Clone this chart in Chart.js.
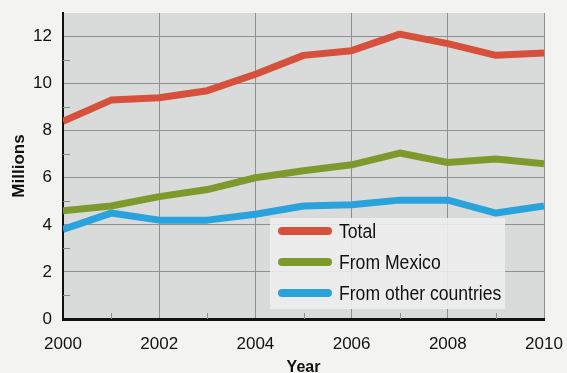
<!DOCTYPE html>
<html>
<head>
<meta charset="utf-8">
<script src="https://cdn.jsdelivr.net/npm/chart.js@4/dist/chart.umd.min.js"></script>
<style>
  body { margin: 0; background: #f3f3f1; }
  #wrap { position: relative; width: 567px; height: 373px; }
  #legend {
    position: absolute; left: 270px; top: 218px; width: 235px; height: 91px;
    background: rgba(236, 237, 236, 0.9);
    font-family: "Liberation Sans", sans-serif; font-size: 20px; color: #111;
  }
  .item { position: absolute; left: 8px; height: 24px; display: flex; align-items: center; white-space: nowrap; }
  .swatch { width: 54px; height: 8px; border-radius: 4px; margin-right: 7px; flex: none; }
  .txt { display: inline-block; transform: scaleX(0.88); transform-origin: left center; }
</style>
</head>
<body>
<div id="wrap">
  <canvas id="chart" width="567" height="373"></canvas>
  <div id="legend"></div>
</div>
<script>
// values (millions)
const years = [2000, 2001, 2002, 2003, 2004, 2005, 2006, 2007, 2008, 2009, 2010];
const total = [8.4, 9.3, 9.4, 9.7, 10.4, 11.2, 11.4, 12.1, 11.7, 11.2, 11.3];
const fromMexico = [4.6, 4.8, 5.2, 5.5, 6.0, 6.3, 6.55, 7.05, 6.65, 6.8, 6.6];
const fromOther = [3.8, 4.5, 4.2, 4.2, 4.45, 4.8, 4.85, 5.05, 5.05, 4.5, 4.8];
const seriesNames = ["Total", "From Mexico", "From other countries"];
const colors = ["#d6503b", "#7f9a2c", "#2aa3dd"];

const pts = arr => arr.map((v, i) => ({x: years[i], y: v}));
const seriesData = [total, fromMexico, fromOther];

// plot background + little minor ticks at odd values
const plotBg = {
  id: 'plotBg',
  beforeDraw(chart) {
    const a = chart.chartArea, ctx = chart.ctx;
    ctx.save();
    ctx.fillStyle = '#d9dbdb';
    ctx.fillRect(a.left, a.top, a.right - a.left, a.bottom - a.top);
    ctx.restore();
  },
  beforeDatasetsDraw(chart) {
    const a = chart.chartArea, ctx = chart.ctx;
    const xs = chart.scales.x, ys = chart.scales.y;
    ctx.save();
    ctx.strokeStyle = '#8a8c8c';
    ctx.lineWidth = 1;
    ctx.beginPath();
    for (let y = 1; y <= 11; y += 2) {
      const py = Math.round(ys.getPixelForValue(y)) + 0.5;
      ctx.moveTo(a.left, py); ctx.lineTo(a.left + 7, py);
    }
    for (let x = 2001; x <= 2009; x += 2) {
      const px = Math.round(xs.getPixelForValue(x)) + 0.5;
      ctx.moveTo(px, a.bottom); ctx.lineTo(px, a.bottom - 6);
    }
    ctx.stroke();
    ctx.restore();
  }
};

new Chart(document.getElementById('chart'), {
  type: 'line',
  data: {
    datasets: seriesData.map((d, i) => ({
      label: seriesNames[i],
      data: pts(d),
      borderColor: colors[i],
      borderWidth: 7,
      pointRadius: 0,
      tension: 0,
      borderJoinStyle: 'round'
    }))
  },
  options: {
    responsive: false,
    animation: false,
    layout: { padding: { top: 13, right: 23, left: 0, bottom: 0 } },
    plugins: { legend: { display: false }, tooltip: { enabled: false } },
    scales: {
      x: {
        type: 'linear', min: 2000, max: 2010,
        afterFit: s => { s.height = 54; s.paddingLeft = 0; s.paddingRight = 0; },
        ticks: { stepSize: 2, padding: 15, color: '#111', maxRotation: 0,
                 font: { family: 'Liberation Sans', size: 17 }, callback: v => String(v) },
        grid: { color: '#8f9191', drawTicks: false },
        border: { color: '#111', width: 3 },
        title: { display: true, text: 'Year', color: '#111',
                 font: { family: 'Liberation Sans', size: 16, weight: 'bold' }, padding: { top: 0, bottom: -4 } }
      },
      y: {
        min: 0, max: 13,
        afterFit: s => { s.width = 63; s.paddingTop = 0; s.paddingBottom = 0; },
        afterBuildTicks: s => { s.ticks = s.ticks.filter(t => t.value <= 12); },
        ticks: { stepSize: 2, padding: 11, color: '#111',
                 font: { family: 'Liberation Sans', size: 17 } },
        grid: { color: '#8f9191', drawTicks: false },
        border: { color: '#111', width: 2 },
        title: { display: true, text: 'Millions', color: '#111',
                 font: { family: 'Liberation Sans', size: 17, weight: 'bold' }, padding: { top: 9, bottom: 0 } }
      }
    }
  },
  plugins: [plotBg]
});

// legend inside the plot
const lg = document.getElementById('legend');
seriesNames.forEach((name, i) => {
  const it = document.createElement('div');
  it.className = 'item';
  it.style.top = (1 + i * 31) + 'px';
  it.innerHTML = '<span class="swatch" style="background:' + colors[i] + '"></span><span class="txt">' + name + '</span>';
  lg.appendChild(it);
});
</script>
</body>
</html>
